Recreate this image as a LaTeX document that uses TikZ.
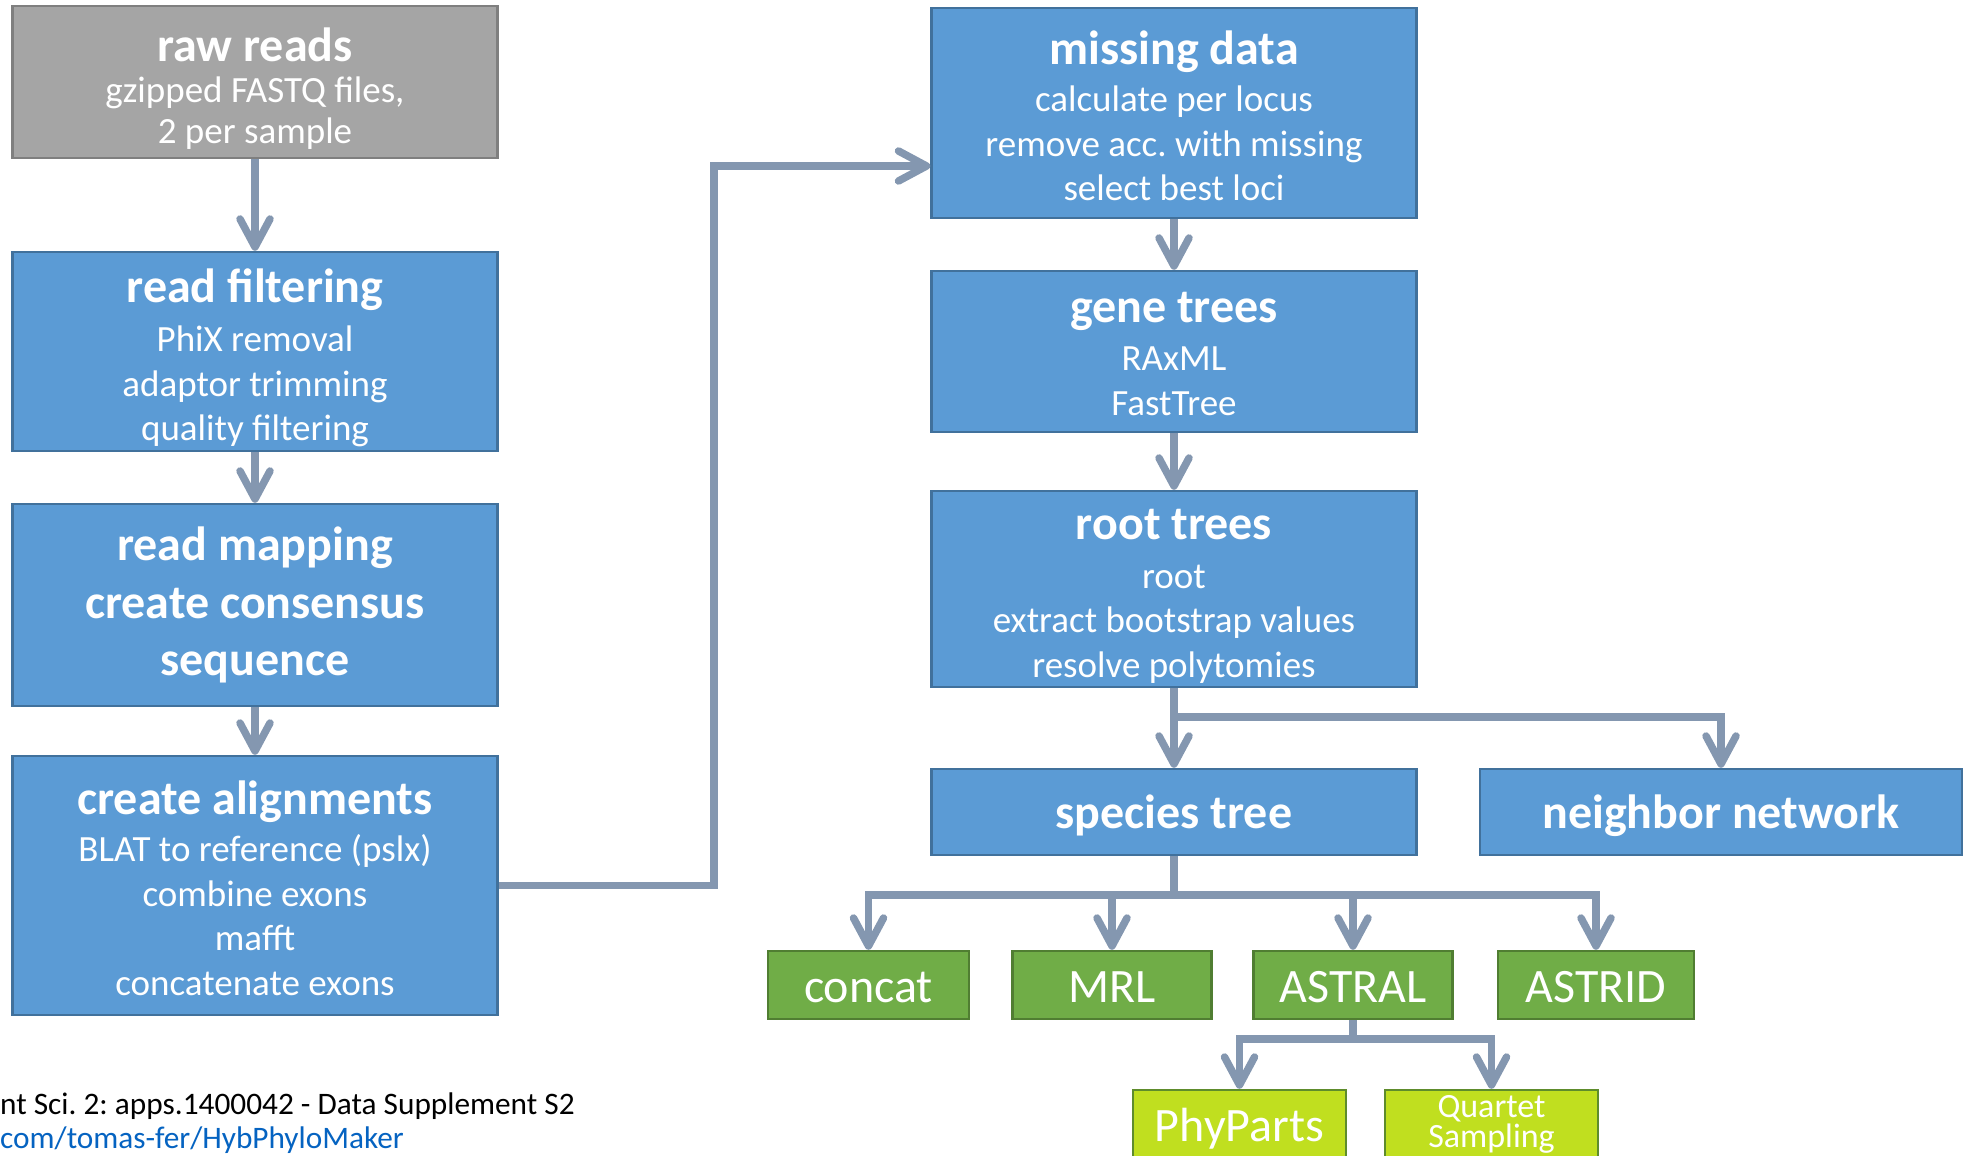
\documentclass[tikz,border=0pt]{standalone}
\usepackage{fontspec}
\setmainfont{Carlito}
\usetikzlibrary{arrows.meta}

\definecolor{stepblue}{HTML}{5B9BD5}
\definecolor{stepblueline}{HTML}{41719C}
\definecolor{rawgray}{HTML}{A5A5A5}
\definecolor{rawgrayline}{HTML}{7F7F7F}
\definecolor{toolgreen}{HTML}{70AD47}
\definecolor{toolgreenline}{HTML}{507E32}
\definecolor{extragreen}{HTML}{C0DF1F}
\definecolor{extragreenline}{HTML}{5E8C2C}
\definecolor{flowgray}{HTML}{8497B0}
\definecolor{linkblue}{HTML}{0563C1}

% bold box title, optional strut height
\newcommand{\boxhead}[2][39pt]{{\fontsize{48}{52}\selectfont\bfseries\rule{0pt}{#1}#2}}

\begin{document}
\frenchspacing
\begin{tikzpicture}[x=1pt, y=-1pt,
    stepbox/.style={draw=stepblueline, fill=stepblue, line width=2.5pt, text=white,
        align=center, minimum width=485pt, inner sep=2pt,
        font=\fontsize{37}{44.5}\selectfont},
    rawbox/.style={stepbox, draw=rawgrayline, fill=rawgray},
    titlebox/.style={stepbox, minimum height=86pt, text height=38pt, text depth=6pt,
        font=\fontsize{48}{52}\selectfont\bfseries},
    toolbox/.style={draw=toolgreenline, fill=toolgreen, line width=2.5pt, text=white,
        align=center, minimum width=199pt, minimum height=68pt, inner sep=2pt,
        text height=34pt, text depth=0pt, font=\fontsize{48}{52}\selectfont},
    extrabox/.style={toolbox, draw=extragreenline, fill=extragreen, minimum width=213pt},
    flow/.style={draw=flowgray, line width=7.5pt, -{Straight Barb[length=28pt,width=30pt,round]}}]

    % Frame
    \useasboundingbox (0,0) rectangle (1965,1156);
    \clip (0,0) rectangle (1965,1156);

    % Left column
    \node[rawbox, minimum height=152pt, font=\fontsize{37}{41}\selectfont] (raw) at (255,82)
        {\boxhead[47pt]{raw reads}\\gzipped FASTQ files,\\2 per sample};
    \node[stepbox, minimum height=199pt] (filter) at (255,351.5)
        {\boxhead[46pt]{read filtering}\\[5pt]PhiX removal\\adaptor trimming\\quality filtering};
    \node[stepbox, minimum height=202pt, font=\fontsize{48}{57.6}\selectfont\bfseries] (mapping) at (255,605)
        {read mapping\\create consensus\\sequence};
    \node[stepbox, minimum height=259pt] (align) at (255,885.5)
        {\boxhead{create alignments}\\[3pt]BLAT to reference (pslx)\\combine exons\\mafft\\concatenate exons};

    % Right column
    \node[stepbox, minimum height=210pt] (missing) at (1174,113)
        {\boxhead{missing data}\\[3pt]calculate per locus\\remove acc. with missing\\select best loci};
    \node[stepbox, minimum height=161pt] (genetrees) at (1174,351.5)
        {\boxhead[35pt]{gene trees}\\[4pt]RAxML\\FastTree};
    \node[stepbox, minimum height=196pt] (roottrees) at (1174,589)
        {\boxhead[45pt]{root trees}\\[4pt]root\\extract bootstrap values\\resolve polytomies};
    \node[titlebox] (species) at (1174,812) {species tree};
    \node[titlebox, minimum width=482pt] (network) at (1721,812) {neighbor network};

    % Tree methods
    \node[toolbox, minimum width=201pt] (concat) at (868.5,985) {concat};
    \node[toolbox] (mrl) at (1112,985) {MRL};
    \node[toolbox] (astral) at (1353,985) {ASTRAL};
    \node[toolbox, minimum width=196pt] (astrid) at (1596,985) {ASTRID};
    \node[extrabox] (phyparts) at (1239.5,1124) {PhyParts};
    \node[extrabox, text height=, text depth=, font=\fontsize{34}{30}\selectfont] (quartet) at (1491.5,1124)
        {Quartet\\Sampling};

    % Forks
    \coordinate (detour) at (714,166);
    \coordinate (rootfork) at (1174,717);
    \coordinate (speciesfork) at (1174,895);
    \coordinate (astralfork) at (1353,1039);

    % Connectors
    \draw[flow] (raw) -- (filter);
    \draw[flow] (filter) -- (mapping);
    \draw[flow] (mapping) -- (align);
    \draw[flow] (align.east) -| (detour) -- (detour -| missing.west);
    \draw[flow] (missing) -- (genetrees);
    \draw[flow] (genetrees) -- (roottrees);
    \draw[flow] (roottrees) -- (species);
    \draw[flow] (roottrees.south) -- (rootfork) -| (network.north);
    \foreach \tool in {concat,mrl,astral,astrid}
        \draw[flow] (species.south) -- (speciesfork) -| (\tool.north);
    \foreach \tool in {phyparts,quartet}
        \draw[flow] (astral.south) -- (astralfork) -| (\tool.north);

    % Citation
    \node[anchor=base west, inner sep=0pt, font=\fontsize{31.3}{34}\selectfont] (citation) at (0,1114)
        {nt Sci. 2: apps.1400042 - Data Supplement S2};
    \node[anchor=base west, inner sep=0pt, text=linkblue, font=\fontsize{31.3}{34}\selectfont] (repo) at (0,1148)
        {com/tomas-fer/HybPhyloMaker};

\end{tikzpicture}
\end{document}
